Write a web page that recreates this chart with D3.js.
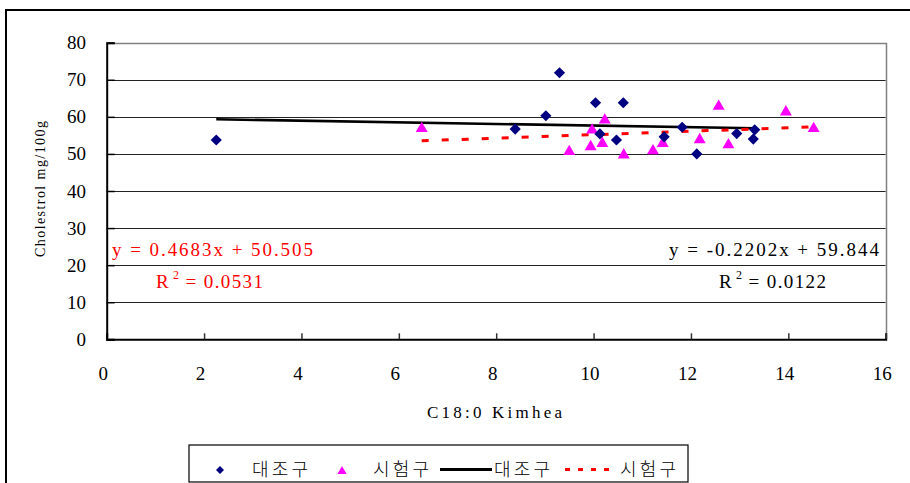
<!DOCTYPE html>
<html>
<head>
<meta charset="utf-8">
<script src="https://cdn.jsdelivr.net/npm/d3@7"></script>
<style>
  html, body { margin: 0; padding: 0; background: #fff; }
  svg { display: block; }
  .serif { font-family: "Liberation Serif", "Times New Roman", Tinos, serif; }
  .kr { font-family: "Noto Sans CJK KR", "Noto Sans CJK SC", sans-serif; }
</style>
</head>
<body>
<svg id="chart" width="910" height="483"></svg>
<script>
// Control group (대조구): C18:0 vs cholesterol
const controlX = [2.25, 8.39, 9.02, 9.30, 10.04, 10.13, 10.47, 10.61, 11.45, 11.82, 12.12, 12.94, 13.28, 13.31];
const controlY = [53.75, 56.7, 60.3, 71.9, 63.8, 55.4, 53.75, 63.8, 54.6, 57.2, 50.0, 55.5, 54.0, 56.5];

// Experimental group (시험구)
const testX = [6.47, 9.50, 9.94, 9.97, 10.18, 10.23, 10.62, 11.22, 11.42, 12.18, 12.57, 12.77, 13.95, 14.52];
const testY = [57.3, 51.1, 52.4, 56.9, 53.3, 59.6, 50.2, 51.3, 53.3, 54.3, 63.3, 52.9, 61.8, 57.3];

// Linear trendlines (slope, intercept, R²)
const controlFit = { slope: -0.2202, intercept: 59.844, r2: "0.0122" };
const testFit = { slope: 0.4683, intercept: 50.505, r2: "0.0531" };

const xTicks = [0, 2, 4, 6, 8, 10, 12, 14, 16];
const yTicks = [0, 10, 20, 30, 40, 50, 60, 70, 80];
const legendLabels = ["대조구", "시험구", "대조구", "시험구"];
const xTitle = "C18:0 Kimhea";
const yTitle = "Cholestrol mg/100g";

const svg = d3.select("#chart");

const x = d3.scaleLinear().domain([0, 16]).range([106.7, 885.7]);
const y = d3.scaleLinear().domain([0, 80]).range([339.3, 42.7]);

// outer chart frame
svg.append("rect")
  .attr("x", 6).attr("y", 10).attr("width", 1000).attr("height", 1000)
  .attr("fill", "none").attr("stroke", "#000").attr("stroke-width", 2);

// gridlines
svg.append("g").selectAll("line")
  .data(yTicks.filter(v => v > 0 && v < 80))
  .join("line")
  .attr("x1", x(0)).attr("x2", x(16))
  .attr("y1", d => Math.round(y(d)) + 0.5).attr("y2", d => Math.round(y(d)) + 0.5)
  .attr("stroke", "#222").attr("stroke-width", 1);

// plot area border (top and right)
svg.append("path")
  .attr("d", `M${x(0)},${Math.round(y(80)) + 0.5}H${Math.round(x(16)) + 0.5}V${y(0)}`)
  .attr("fill", "none").attr("stroke", "#808080").attr("stroke-width", 1.5);

// axes with inward ticks
const xAxis = d3.axisBottom(x).tickValues(xTicks).tickSize(-6).tickFormat("");
const gx = svg.append("g").attr("transform", `translate(0,${y(0)})`).call(xAxis);
gx.select(".domain").attr("stroke", "#000").attr("stroke-width", 2);
gx.selectAll(".tick line").attr("stroke", "#333").attr("stroke-width", 1.5);

const yAxis = d3.axisLeft(y).tickValues(yTicks).tickSize(-8).tickFormat("");
const gy = svg.append("g").attr("transform", `translate(${x(0)},0)`).call(yAxis);
gy.select(".domain").attr("stroke", "#000").attr("stroke-width", 2);
gy.selectAll(".tick line").attr("stroke", "#000").attr("stroke-width", 1.5);

// tick labels
svg.append("g").attr("class", "serif").selectAll("text").data(xTicks).join("text")
  .attr("x", d => x(d) - 3.5).attr("y", 380)
  .attr("text-anchor", "middle")
  .attr("font-size", 19)
  .text(d => d);

svg.append("g").attr("class", "serif").selectAll("text").data(yTicks).join("text")
  .attr("x", 86).attr("y", d => y(d) + 6.5)
  .attr("text-anchor", "end")
  .attr("font-size", 19)
  .text(d => d);

// axis titles
svg.append("text").attr("class", "serif")
  .attr("x", 427).attr("y", 418)
  .attr("font-size", 17)
  .attr("textLength", 135).attr("lengthAdjust", "spacing")
  .text(xTitle);

svg.append("text").attr("class", "serif")
  .attr("transform", "translate(45,189) rotate(-90)")
  .attr("text-anchor", "middle")
  .attr("font-size", 14)
  .attr("textLength", 136).attr("lengthAdjust", "spacing")
  .text(yTitle);

// trendlines
function trendPath(fit, xs) {
  const x0 = d3.min(xs), x1 = d3.max(xs);
  return d3.line()([[x(x0), y(fit.slope * x0 + fit.intercept)],
                    [x(x1), y(fit.slope * x1 + fit.intercept)]]);
}

svg.append("path")
  .attr("d", trendPath(controlFit, controlX))
  .attr("stroke", "#000").attr("stroke-width", 2.6).attr("fill", "none");

svg.append("path")
  .attr("d", trendPath(testFit, testX))
  .attr("stroke", "#ff0000").attr("stroke-width", 3).attr("fill", "none")
  .attr("stroke-dasharray", "7,13");

// markers
const diamond = s => `M0,${-s}L${s},0L0,${s}L${-s},0Z`;
const triangle = s => `M0,${-s}L${s * 1.15},${s}L${-s * 1.15},${s}Z`;

svg.append("g").selectAll("path")
  .data(d3.zip(testX, testY)).join("path")
  .attr("transform", d => `translate(${x(d[0])},${y(d[1])})`)
  .attr("d", triangle(5.2))
  .attr("fill", "#ff00ff");

svg.append("g").selectAll("path")
  .data(d3.zip(controlX, controlY)).join("path")
  .attr("transform", d => `translate(${x(d[0])},${y(d[1])})`)
  .attr("d", diamond(5.6))
  .attr("fill", "#000080");

// trendline equations
function equation(fit) {
  const sign = fit.intercept >= 0 ? "+" : "-";
  return `y = ${fit.slope}x ${sign} ${Math.abs(fit.intercept)}`;
}

function r2Label(g, fit, xPos, color) {
  const t = g.append("text").attr("class", "serif")
    .attr("x", xPos).attr("y", 288)
    .attr("font-size", 19)
    .attr("letter-spacing", 1.4)
    .attr("fill", color);
  t.append("tspan").text("R");
  t.append("tspan").attr("dy", -9).attr("dx", 3).attr("font-size", 12).text("2");
  t.append("tspan").attr("dy", 9).attr("dx", 5).text("= " + fit.r2);
}

const eq = svg.append("g");
eq.append("text").attr("class", "serif")
  .attr("x", 112).attr("y", 256)
  .attr("font-size", 19)
  .attr("fill", "#ff0000")
  .attr("textLength", 201).attr("lengthAdjust", "spacing")
  .text(equation(testFit));
r2Label(eq, testFit, 156, "#ff0000");

eq.append("text").attr("class", "serif")
  .attr("x", 669).attr("y", 256)
  .attr("font-size", 19)
  .attr("fill", "#000")
  .attr("textLength", 210).attr("lengthAdjust", "spacing")
  .text(equation(controlFit));
r2Label(eq, controlFit, 719, "#000");

// legend
const lg = svg.append("g");
lg.append("rect")
  .attr("x", 189).attr("y", 445).attr("width", 499).attr("height", 37)
  .attr("fill", "#fff").attr("stroke", "#000").attr("stroke-width", 1.2);

lg.append("path").attr("transform", "translate(220,470)").attr("d", diamond(4)).attr("fill", "#000080");
lg.append("path").attr("transform", "translate(342,470)").attr("d", triangle(4)).attr("fill", "#ff00ff");
lg.append("line").attr("x1", 440).attr("x2", 492).attr("y1", 469.5).attr("y2", 469.5)
  .attr("stroke", "#000").attr("stroke-width", 3);
lg.append("line").attr("x1", 565).attr("x2", 616).attr("y1", 469.5).attr("y2", 469.5)
  .attr("stroke", "#ff0000").attr("stroke-width", 3).attr("stroke-dasharray", "5,8");

const legendTextX = [252, 373, 494, 620];
lg.selectAll("text.lbl").data(legendLabels).join("text")
  .attr("class", "lbl kr")
  .attr("x", (d, i) => legendTextX[i]).attr("y", 476)
  .attr("font-size", 18).attr("font-weight", 300)
  .attr("textLength", 56).attr("lengthAdjust", "spacing")
  .text(d => d);
</script>
</body>
</html>
